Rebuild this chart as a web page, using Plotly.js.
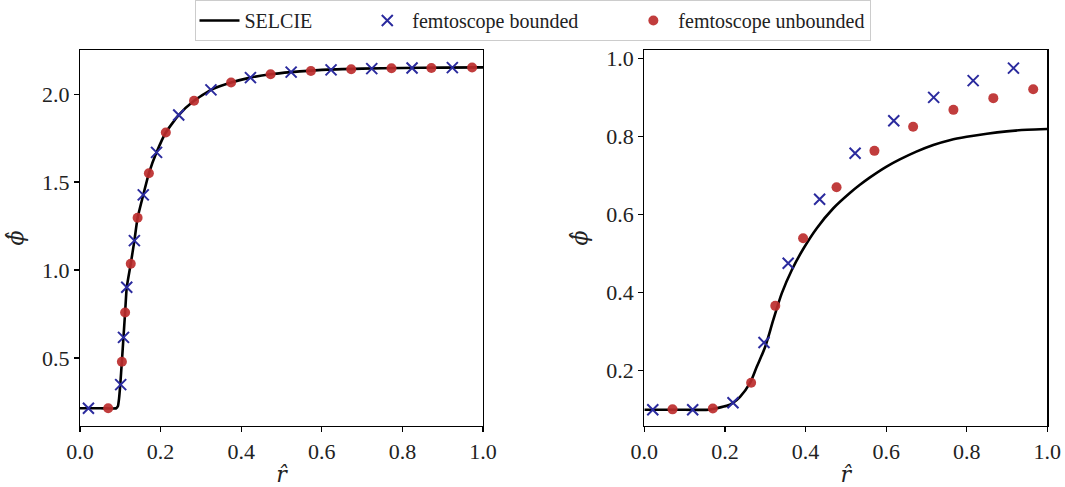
<!DOCTYPE html>
<html>
<head>
<meta charset="utf-8">
<script src="https://cdn.plot.ly/plotly-3.0.1.min.js"></script>
<style>body{margin:0;padding:0;background:#fff}#chart{width:1065px;height:487px}</style>
</head>
<body>
<div id="chart"></div>
<script>
// Left panel
const leftCurveX = [0, 0.05, 0.09, 0.094, 0.097, 0.100, 0.104, 0.108, 0.112, 0.116, 0.126, 0.135, 0.143, 0.157, 0.171, 0.19, 0.213, 0.245, 0.283, 0.325, 0.375, 0.423, 0.473, 0.524, 0.6, 0.7, 0.8, 0.9, 1.0];
const leftCurveY = [0.214, 0.214, 0.214, 0.225, 0.27, 0.35, 0.48, 0.62, 0.76, 0.90, 1.036, 1.167, 1.297, 1.427, 1.55, 1.669, 1.782, 1.881, 1.962, 2.024, 2.066, 2.094, 2.113, 2.125, 2.138, 2.145, 2.149, 2.151, 2.152];
const leftBoundedX = [0.021, 0.101, 0.108, 0.116, 0.135, 0.157, 0.190, 0.245, 0.325, 0.423, 0.524, 0.623, 0.724, 0.824, 0.924];
const leftBoundedY = [0.214, 0.348, 0.617, 0.902, 1.167, 1.427, 1.669, 1.881, 2.024, 2.094, 2.125, 2.138, 2.145, 2.149, 2.151];
const leftUnboundedX = [0.070, 0.104, 0.112, 0.126, 0.143, 0.171, 0.213, 0.283, 0.375, 0.473, 0.573, 0.673, 0.773, 0.872, 0.973];
const leftUnboundedY = [0.214, 0.478, 0.758, 1.036, 1.297, 1.550, 1.782, 1.962, 2.066, 2.113, 2.132, 2.142, 2.147, 2.149, 2.151];

// Right panel
const rightCurveX = [0, 0.1, 0.16, 0.18, 0.2045, 0.219, 0.2375, 0.262, 0.279, 0.2995, 0.320, 0.341, 0.366, 0.395, 0.428, 0.469, 0.510, 0.535, 0.56, 0.6, 0.634, 0.675, 0.717, 0.76, 0.8, 0.85, 0.899, 0.95, 1.0];
const rightCurveY = [0.1, 0.1, 0.1, 0.104, 0.110, 0.117, 0.133, 0.168, 0.210, 0.260, 0.330, 0.398, 0.458, 0.513, 0.565, 0.616, 0.655, 0.676, 0.695, 0.722, 0.741, 0.761, 0.778, 0.791, 0.799, 0.807, 0.813, 0.817, 0.819];
const rightBoundedX = [0.021, 0.120, 0.220, 0.297, 0.357, 0.435, 0.523, 0.619, 0.718, 0.816, 0.916];
const rightBoundedY = [0.100, 0.100, 0.118, 0.272, 0.475, 0.639, 0.757, 0.840, 0.900, 0.943, 0.975];
const rightUnboundedX = [0.070, 0.170, 0.265, 0.325, 0.394, 0.477, 0.571, 0.667, 0.767, 0.866, 0.965];
const rightUnboundedY = [0.101, 0.103, 0.169, 0.366, 0.539, 0.670, 0.763, 0.825, 0.868, 0.898, 0.921];

const xTicks = [0, 0.2, 0.4, 0.6, 0.8, 1.0];
const leftYTicks = [0.5, 1.0, 1.5, 2.0];
const rightYTicks = [0.2, 0.4, 0.6, 0.8, 1.0];

const names = ['SELCIE', 'femtoscope bounded', 'femtoscope unbounded'];
const pad = '\u00A0'.repeat(9);
const FONT = 'Liberation Serif, DejaVu Serif, serif';
const crossStyle = {symbol: 'x-thin-open', size: 11, color: '#2b2b9e', line: {width: 2, color: '#2b2b9e'}};
const dotStyle = {symbol: 'circle', size: 10, color: 'rgba(188,44,44,0.92)', line: {width: 0}};

const traces = [
  {x: leftCurveX, y: leftCurveY, mode: 'lines', name: names[0] + pad, line: {color: 'black', width: 2.6, shape: 'spline', smoothing: 0.5}, xaxis: 'x', yaxis: 'y', legendgroup: 'a'},
  {x: leftBoundedX, y: leftBoundedY, mode: 'markers', name: names[1] + pad, marker: crossStyle, xaxis: 'x', yaxis: 'y', legendgroup: 'b'},
  {x: leftUnboundedX, y: leftUnboundedY, mode: 'markers', name: names[2], marker: dotStyle, xaxis: 'x', yaxis: 'y', legendgroup: 'c'},
  {x: rightCurveX, y: rightCurveY, mode: 'lines', name: names[0], showlegend: false, line: {color: 'black', width: 2.6, shape: 'spline', smoothing: 0.8}, xaxis: 'x2', yaxis: 'y2', legendgroup: 'a'},
  {x: rightBoundedX, y: rightBoundedY, mode: 'markers', name: names[1], showlegend: false, marker: crossStyle, xaxis: 'x2', yaxis: 'y2', legendgroup: 'b'},
  {x: rightUnboundedX, y: rightUnboundedY, mode: 'markers', name: names[2], showlegend: false, marker: dotStyle, xaxis: 'x2', yaxis: 'y2', legendgroup: 'c'}
];

const axisCommon = {
  showline: true, mirror: true, linecolor: 'black', linewidth: 1.2,
  ticks: 'outside', ticklen: 5, tickwidth: 1.2, tickcolor: 'black',
  showgrid: false, zeroline: false,
  tickfont: {family: FONT, size: 22, color: '#222'}
};
const yTitle = {text: '<i>ϕ̂</i>', font: {family: 'DejaVu Serif, serif', size: 22, color: '#222'}, standoff: 12};
const xTitle = {text: '<i>r̂</i>', font: {family: 'DejaVu Serif, serif', size: 22, color: '#222'}, standoff: 4};

const layout = {
  width: 1065, height: 487,
  margin: {l: 0, r: 0, t: 0, b: 0},
  paper_bgcolor: 'white', plot_bgcolor: 'white',
  font: {family: FONT, color: '#222'},
  showlegend: true,
  legend: {
    orientation: 'h', x: 0.5, xanchor: 'center', y: 1.0, yanchor: 'top',
    bordercolor: '#cccccc', borderwidth: 1, bgcolor: 'white',
    font: {family: FONT, size: 20, color: '#222'},
    itemwidth: 40, tracegroupgap: 0
  },
  xaxis: Object.assign({}, axisCommon, {domain: [0.0751, 0.4535], range: [0, 1], tickvals: xTicks, ticktext: xTicks.map(v => v.toFixed(1)), title: xTitle, anchor: 'y'}),
  yaxis: Object.assign({}, axisCommon, {domain: [0.1253, 0.8973], range: [0.1131, 2.2509], tickvals: leftYTicks, ticktext: leftYTicks.map(v => v.toFixed(1)), title: yTitle, anchor: 'x'}),
  xaxis2: Object.assign({}, axisCommon, {domain: [0.605, 0.9834], range: [0, 1], tickvals: xTicks, ticktext: xTicks.map(v => v.toFixed(1)), title: xTitle, anchor: 'y2'}),
  yaxis2: Object.assign({}, axisCommon, {domain: [0.1253, 0.8973], range: [0.0584, 1.0213], tickvals: rightYTicks, ticktext: rightYTicks.map(v => v.toFixed(1)), title: yTitle, anchor: 'x2'})
};

Plotly.newPlot('chart', traces, layout, {displayModeBar: false, staticPlot: true});
</script>
</body>
</html>
